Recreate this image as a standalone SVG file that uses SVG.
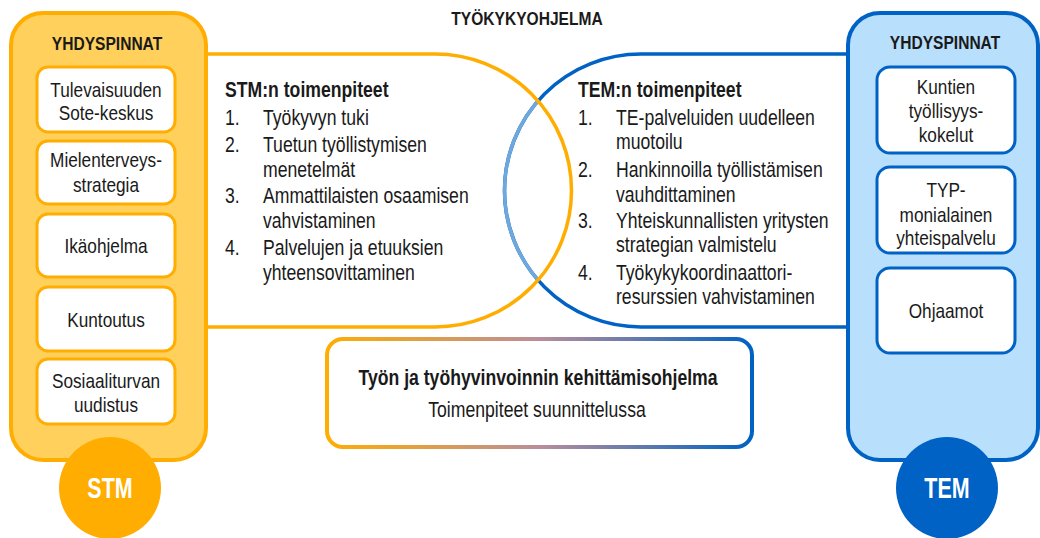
<svg xmlns="http://www.w3.org/2000/svg" width="1040" height="538" viewBox="0 0 1040 538">
<defs>
<linearGradient id="grad" gradientUnits="userSpaceOnUse" x1="327" y1="0" x2="752" y2="0">
<stop offset="0" stop-color="#FFAD00"/>
<stop offset="0.5" stop-color="#B98E9A"/>
<stop offset="1" stop-color="#0062C4"/>
</linearGradient>
<style>
text{font-family:"Liberation Sans",Arial,sans-serif;fill:#1a1a1a;}
.b{font-weight:bold;}
.m{text-anchor:middle;}
.h{font-size:19px;font-weight:bold;}
.t{font-size:21px;}
.l{font-size:21.5px;}
.c{font-size:29px;font-weight:bold;fill:#fff;text-anchor:middle;}
.ybox{fill:#fff;stroke:#FFAD00;stroke-width:3;}
.bbox{fill:#fff;stroke:#0062C4;stroke-width:3;}
</style>
</defs>
<rect width="1040" height="538" fill="#fff"/>
<text class="h m" transform="matrix(0.82 0 0 1 527 25)">TYÖKYKYOHJELMA</text>

<g id="tem-area">
<path d="M848,54 H641 A136.5,136.5 0 0 0 641,327 H848" fill="none" stroke="#0062C4" stroke-width="3.5"/>
<path d="M538,100.93 A136.5,136.5 0 0 0 538,280.07" fill="none" stroke="#6FA8DC" stroke-width="3.5"/>
<text class="l b" transform="matrix(0.82 0 0 1 578 97)">TEM:n toimenpiteet</text>
<text class="l" transform="matrix(0.82 0 0 1 578 125)">1.</text><text class="l" transform="matrix(0.82 0 0 1 616 125)">TE-palveluiden uudelleen</text>
<text class="l" transform="matrix(0.82 0 0 1 616 149)">muotoilu</text>
<text class="l" transform="matrix(0.82 0 0 1 578 177)">2.</text><text class="l" transform="matrix(0.82 0 0 1 616 177)">Hankinnoilla työllistämisen</text>
<text class="l" transform="matrix(0.82 0 0 1 616 202)">vauhdittaminen</text>
<text class="l" transform="matrix(0.82 0 0 1 578 228)">3.</text><text class="l" transform="matrix(0.82 0 0 1 616 228)">Yhteiskunnallisten yritysten</text>
<text class="l" transform="matrix(0.82 0 0 1 616 252)">strategian valmistelu</text>
<text class="l" transform="matrix(0.82 0 0 1 578 280)">4.</text><text class="l" transform="matrix(0.82 0 0 1 616 280)">Työkykykoordinaattori-</text>
<text class="l" transform="matrix(0.82 0 0 1 616 304)">resurssien vahvistaminen</text>
</g>

<g id="stm-area">
<path d="M206,54 H435 A136.5,136.5 0 0 1 435,327 H206" fill="none" stroke="#FFAD00" stroke-width="3.5"/>
<text class="l b" transform="matrix(0.82 0 0 1 225 97)">STM:n toimenpiteet</text>
<text class="l" transform="matrix(0.82 0 0 1 225 125)">1.</text><text class="l" transform="matrix(0.82 0 0 1 263 125)">Työkyvyn tuki</text>
<text class="l" transform="matrix(0.82 0 0 1 225 152)">2.</text><text class="l" transform="matrix(0.82 0 0 1 263 152)">Tuetun työllistymisen</text>
<text class="l" transform="matrix(0.82 0 0 1 263 177)">menetelmät</text>
<text class="l" transform="matrix(0.82 0 0 1 225 203)">3.</text><text class="l" transform="matrix(0.82 0 0 1 263 203)">Ammattilaisten osaamisen</text>
<text class="l" transform="matrix(0.82 0 0 1 263 228)">vahvistaminen</text>
<text class="l" transform="matrix(0.82 0 0 1 225 255)">4.</text><text class="l" transform="matrix(0.82 0 0 1 263 255)">Palvelujen ja etuuksien</text>
<text class="l" transform="matrix(0.82 0 0 1 263 280)">yhteensovittaminen</text>
</g>

<g id="stm-panel">
<rect x="11" y="13" width="195" height="447" rx="32" fill="#FFD15C" stroke="#FFAD00" stroke-width="4"/>
<text class="h m" transform="matrix(0.82 0 0 1 107 50)">YHDYSPINNAT</text>
</g>
<g id="stm-1"><rect class="ybox" x="37" y="67" width="138" height="65" rx="11"/>
<text class="t m" transform="matrix(0.82 0 0 1 106 97)">Tulevaisuuden</text><text class="t m" transform="matrix(0.82 0 0 1 106 120)">Sote-keskus</text></g>
<g id="stm-2"><rect class="ybox" x="37" y="141" width="138" height="63" rx="11"/>
<text class="t m" transform="matrix(0.82 0 0 1 106 167)">Mielenterveys-</text><text class="t m" transform="matrix(0.82 0 0 1 106 192)">strategia</text></g>
<g id="stm-3"><rect class="ybox" x="37" y="214" width="138" height="63" rx="11"/>
<text class="t m" transform="matrix(0.82 0 0 1 106 253)">Ikäohjelma</text></g>
<g id="stm-4"><rect class="ybox" x="37" y="287" width="138" height="64" rx="11"/>
<text class="t m" transform="matrix(0.82 0 0 1 106 327)">Kuntoutus</text></g>
<g id="stm-5"><rect class="ybox" x="37" y="359" width="138" height="65" rx="11"/>
<text class="t m" transform="matrix(0.82 0 0 1 106 388)">Sosiaaliturvan</text><text class="t m" transform="matrix(0.82 0 0 1 106 412)">uudistus</text></g>
<g id="stm-circle"><circle cx="110" cy="488" r="51" fill="#FFAD00"/>
<text class="c" transform="matrix(0.74 0 0 1 110 498)">STM</text></g>

<g id="tem-panel">
<rect x="848" y="13" width="190" height="447" rx="32" fill="#B8DFFC" stroke="#0062C4" stroke-width="4"/>
<text class="h m" transform="matrix(0.82 0 0 1 945 49)">YHDYSPINNAT</text>
</g>
<g id="tem-1"><rect class="bbox" x="877" y="67" width="138" height="86" rx="13"/>
<text class="t m" transform="matrix(0.82 0 0 1 946 94)">Kuntien</text><text class="t m" transform="matrix(0.82 0 0 1 946 118)">työllisyys-</text><text class="t m" transform="matrix(0.82 0 0 1 946 142)">kokelut</text></g>
<g id="tem-2"><rect class="bbox" x="877" y="167" width="138" height="86" rx="13"/>
<text class="t m" transform="matrix(0.82 0 0 1 946 197)">TYP-</text><text class="t m" transform="matrix(0.82 0 0 1 946 222)">monialainen</text><text class="t m" transform="matrix(0.82 0 0 1 946 245)">yhteispalvelu</text></g>
<g id="tem-3"><rect class="bbox" x="877" y="268" width="138" height="85" rx="13"/>
<text class="t m" transform="matrix(0.82 0 0 1 946 318)">Ohjaamot</text></g>
<g id="tem-circle"><circle cx="947" cy="488" r="51" fill="#0062C4"/>
<text class="c" transform="matrix(0.74 0 0 1 947 498)">TEM</text></g>

<g id="program">
<rect x="327" y="339" width="425" height="108" rx="16" fill="#fff" stroke="url(#grad)" stroke-width="4"/>
<text class="m b" style="font-size:21.5px" transform="matrix(0.82 0 0 1 538 385)">Työn ja työhyvinvoinnin kehittämisohjelma</text>
<text class="m" style="font-size:21.5px" transform="matrix(0.82 0 0 1 537 417)">Toimenpiteet suunnittelussa</text>
</g>
</svg>
